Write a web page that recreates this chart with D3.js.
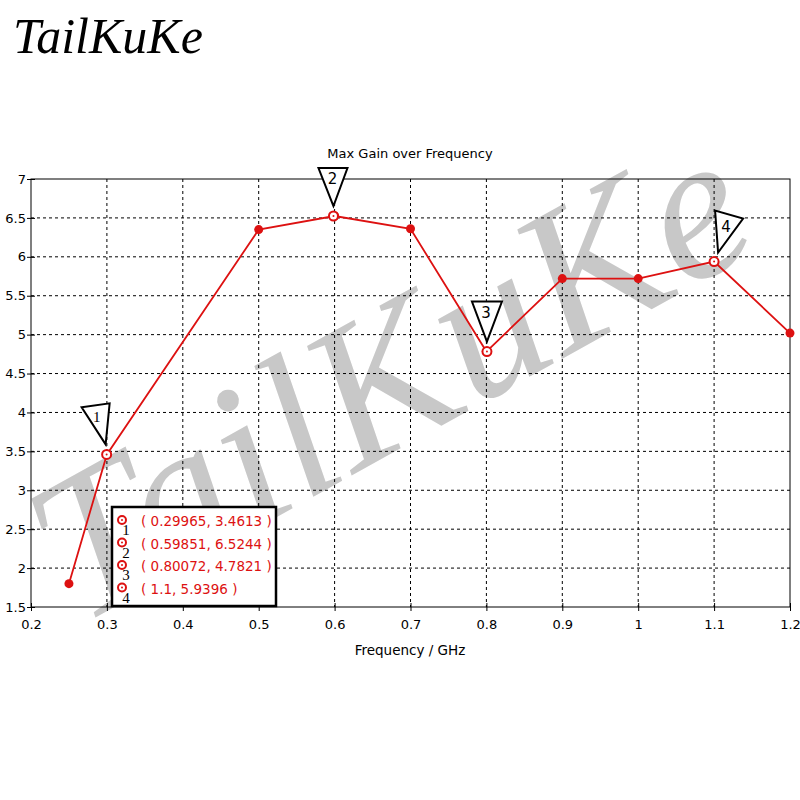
<!DOCTYPE html>
<html>
<head>
<meta charset="utf-8">
<script src="https://cdn.jsdelivr.net/npm/d3@7"></script>
<style>
  body { margin: 0; background: #fff; }
  svg text { font-family: "DejaVu Sans", sans-serif; }
</style>
</head>
<body>
<svg id="chart"></svg>
<script>
let width = 800,
    height = 800;

// data
let freqs = [0.25, 0.3, 0.5, 0.6, 0.7, 0.8, 0.9, 1.0, 1.1, 1.2];
let gains = [1.8, 3.4613, 6.35, 6.5244, 6.36, 4.7821, 5.72, 5.72, 5.9396, 5.02];

let markerIds = ["1", "2", "3", "4"];
let markerFreqs = [0.29965, 0.59851, 0.80072, 1.1];
let markerGains = [3.4613, 6.5244, 4.7821, 5.9396];
let markerLabels = ["( 0.29965, 3.4613 )", "( 0.59851, 6.5244 )", "( 0.80072, 4.7821 )", "( 1.1, 5.9396 )"];

let xTicks = [0.2, 0.3, 0.4, 0.5, 0.6, 0.7, 0.8, 0.9, 1, 1.1, 1.2];
let yTicks = [1.5, 2, 2.5, 3, 3.5, 4, 4.5, 5, 5.5, 6, 6.5, 7];

let red = "#dd1111";

let x = d3.scaleLinear().domain([0.2, 1.2]).range([31, 790]);
let y = d3.scaleLinear().domain([1.5, 7]).range([607, 179]);

let svg = d3.select("#chart")
    .attr("width", width)
    .attr("height", height);

svg.append("rect")
    .attr("width", width)
    .attr("height", height)
    .style("fill", "#fff");

// corner logo
svg.append("text")
    .attr("x", 13)
    .attr("y", 53)
    .style("font-family", "'Liberation Serif', serif")
    .style("font-style", "italic")
    .style("font-size", "50px")
    .style("fill", "#000")
    .text("TailKuKe");

// big watermark behind the plot
svg.append("text")
    .attr("transform", "translate(80,626) rotate(-29)")
    .style("font-family", "'Liberation Serif', serif")
    .style("font-style", "italic")
    .style("font-size", "206px")
    .style("fill", "#c8c8c8")
    .text("TailKuKe");

let g = svg.append("g");

// dashed grid
g.selectAll(".vgrid")
    .data(xTicks.slice(1, -1))
    .enter().append("line")
    .attr("x1", d => x(d)).attr("x2", d => x(d))
    .attr("y1", y(7)).attr("y2", y(1.5))
    .style("stroke", "#000")
    .style("stroke-dasharray", "3,3");

g.selectAll(".hgrid")
    .data(yTicks.slice(1, -1))
    .enter().append("line")
    .attr("x1", x(0.2)).attr("x2", x(1.2))
    .attr("y1", d => y(d)).attr("y2", d => y(d))
    .style("stroke", "#000")
    .style("stroke-dasharray", "3,3");

// frame
g.append("rect")
    .attr("x", x(0.2)).attr("y", y(7))
    .attr("width", x(1.2) - x(0.2))
    .attr("height", y(1.5) - y(7))
    .style("fill", "none")
    .style("stroke", "#000");

// axes
let xAxis = d3.axisBottom(x).tickValues(xTicks).tickSize(4).tickSizeOuter(0)
    .tickFormat(d3.format("~g"));
let yAxis = d3.axisLeft(y).tickValues(yTicks).tickSize(4).tickSizeOuter(0)
    .tickFormat(d3.format("~g"));

let gx = g.append("g")
    .attr("transform", "translate(0," + y(1.5) + ")")
    .call(xAxis);
gx.select(".domain").remove();
gx.selectAll("line").attr("y1", -4).attr("y2", 4);
gx.selectAll("text").attr("y", 13).style("font-family", "'DejaVu Sans', sans-serif").style("font-size", "13px").style("fill", "#000");

let gy = g.append("g")
    .attr("transform", "translate(" + x(0.2) + ",0)")
    .call(yAxis);
gy.select(".domain").remove();
gy.selectAll("line").attr("x1", -4).attr("x2", 4);
gy.selectAll("text").attr("x", -5).style("font-family", "'DejaVu Sans', sans-serif").style("font-size", "13px").style("fill", "#000");

// title + axis label
svg.append("text")
    .attr("x", 410).attr("y", 158)
    .attr("text-anchor", "middle")
    .style("font-size", "13px")
    .text("Max Gain over Frequency");

svg.append("text")
    .attr("x", 410).attr("y", 655)
    .attr("text-anchor", "middle")
    .style("font-size", "13.5px")
    .text("Frequency / GHz");

// the curve
let line = d3.line()
    .x((d, i) => x(freqs[i]))
    .y(d => y(d));

g.append("path")
    .datum(gains)
    .attr("d", line)
    .style("fill", "none")
    .style("stroke", red)
    .style("stroke-width", 1.8);

g.selectAll(".pt")
    .data(gains)
    .enter().append("circle")
    .attr("cx", (d, i) => x(freqs[i]))
    .attr("cy", d => y(d))
    .attr("r", 4.5)
    .style("fill", red);

// marker rings
let mk = g.selectAll(".mk")
    .data(markerGains)
    .enter().append("g")
    .attr("transform", (d, i) => "translate(" + x(markerFreqs[i]) + "," + y(d) + ")");

mk.append("circle")
    .attr("r", 4.5)
    .style("fill", "#fff")
    .style("stroke", red)
    .style("stroke-width", 2);
mk.append("circle")
    .attr("r", 1)
    .style("fill", red);

// callout triangles, offsets relative to each marker
let callouts = [
    [[-1, -10], [-25, -47], [3, -51]],
    [[0, -10], [-15, -48], [14, -48]],
    [[0, -10], [-15, -50], [15, -50]],
    [[4, -9], [1, -51], [29, -43]]
];
let calloutText = [[-10, -32], [-1, -32], [-1, -34], [12, -30]];

mk.append("path")
    .attr("d", (d, i) => "M" + callouts[i].map(p => p.join(",")).join("L") + "Z")
    .style("fill", "#fff")
    .style("stroke", "#000")
    .style("stroke-width", 2);

mk.append("text")
    .attr("x", (d, i) => calloutText[i][0])
    .attr("y", (d, i) => calloutText[i][1])
    .attr("text-anchor", "middle")
    .style("font-family", (d, i) => i == 0 ? "'Liberation Serif', serif" : null)
    .style("font-size", "15px")
    .style("fill", "#000")
    .text((d, i) => markerIds[i]);

// marker legend box
let legend = svg.append("g");

legend.append("rect")
    .attr("x", 112).attr("y", 507)
    .attr("width", 164).attr("height", 99)
    .style("fill", "#fff")
    .style("stroke", "#000")
    .style("stroke-width", 2.5);

let row = legend.selectAll(".row")
    .data(markerLabels)
    .enter().append("g")
    .attr("transform", (d, i) => "translate(0," + (520 + i * 22.5) + ")");

row.append("circle")
    .attr("cx", 122).attr("cy", 0)
    .attr("r", 4)
    .style("fill", "#fff")
    .style("stroke", red)
    .style("stroke-width", 2);
row.append("circle")
    .attr("cx", 122).attr("cy", 0)
    .attr("r", 1)
    .style("fill", red);

row.append("text")
    .attr("x", 126).attr("y", 15)
    .attr("text-anchor", "middle")
    .style("font-family", "'Liberation Serif', serif")
    .style("font-size", "15px")
    .style("fill", "#000")
    .text((d, i) => markerIds[i]);

row.append("text")
    .attr("x", 141).attr("y", 6)
    .style("font-size", "13.5px")
    .style("fill", red)
    .text(d => d);
</script>
</body>
</html>
